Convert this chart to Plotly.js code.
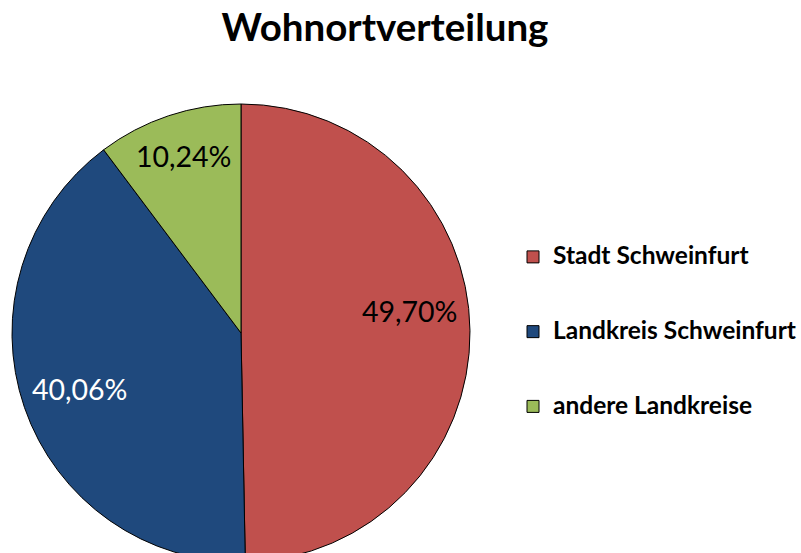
<!DOCTYPE html>
<html>
<head>
<meta charset="utf-8">
<script src="https://cdn.plot.ly/plotly-3.0.1.min.js"></script>
<style>
html, body { margin: 0; padding: 0; overflow: hidden; background: #ffffff; }
#chart { width: 801px; height: 600px; }
</style>
</head>
<body>
<div id="chart"></div>
<script>
const categories = ['Stadt Schweinfurt', 'Landkreis Schweinfurt', 'andere Landkreise'];
const values = [49.70, 40.06, 10.24];
const sliceColors = ['#C0504D', '#1F497D', '#9BBB59'];
const labelColors = ['#000000', '#ffffff', '#000000'];
const chartTitle = 'Wohnortverteilung';

const W = 801, H = 600;
// label anchor points in pixels (layout, not data)
const labelAnchors = [[409, 311], [79, 389], [183, 156]];

const legendLabels = categories.map(c => '&nbsp;<br><span style="font-size:24.5px">' + c + '</span><br>&nbsp;');

const trace = {
  type: 'pie',
  labels: legendLabels,
  values: values,
  sort: false,
  direction: 'clockwise',
  rotation: 0,
  marker: { colors: sliceColors, line: { color: '#000000', width: 1 } },
  textinfo: 'none',
  hoverinfo: 'none',
  domain: { x: [12 / W, 470 / W], y: [1 - 562 / H, 1 - 104 / H] }
};

const fmt = v => v.toFixed(2).replace('.', ',') + '%';
const annotations = values.map((v, i) => ({
  text: fmt(v),
  xref: 'paper', yref: 'paper',
  x: labelAnchors[i][0] / W, y: 1 - labelAnchors[i][1] / H,
  xanchor: 'center', yanchor: 'middle',
  showarrow: false,
  font: { family: 'Lato, sans-serif', size: 28.5, color: labelColors[i] }
}));

const layout = {
  width: W,
  height: H,
  margin: { l: 0, r: 0, t: 0, b: 0, pad: 0 },
  paper_bgcolor: '#ffffff',
  plot_bgcolor: '#ffffff',
  separators: ',.',
  title: {
    text: '<b>' + chartTitle + '</b>',
    font: { family: 'Lato, sans-serif', size: 38.5, color: '#000000' },
    x: 385 / W, xanchor: 'center', xref: 'paper',
    y: 1 - 28 / H, yanchor: 'middle', yref: 'container'
  },
  annotations: annotations,
  showlegend: true,
  legend: {
    x: 513 / W, xanchor: 'left',
    y: 1 - 332 / H, yanchor: 'middle',
    font: { family: 'Lato, sans-serif', size: 18.4, color: '#000000', weight: 'bold' },
    bgcolor: 'rgba(0,0,0,0)',
    borderwidth: 0
  }
};

Plotly.newPlot('chart', [trace], layout, { displayModeBar: false, staticPlot: true });
</script>
</body>
</html>
